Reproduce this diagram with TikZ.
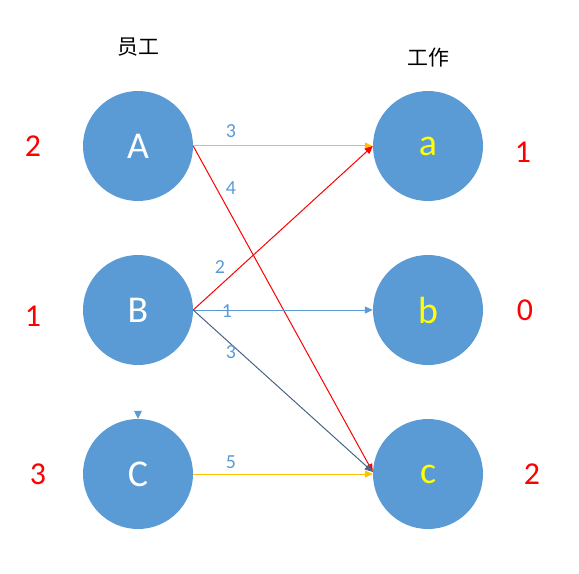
\documentclass[tikz,border=0pt]{standalone}
\usepackage{fontspec}
\setmainfont{Carlito}
\newfontfamily\cjk{Noto Sans CJK SC}
\usetikzlibrary{arrows.meta}
\definecolor{nodeblue}{HTML}{5B9BD5}
\definecolor{arrowyellow}{HTML}{FFC000}
\definecolor{darkslate}{HTML}{4A6484}
\definecolor{letteryellow}{HTML}{FFFF00}
\tikzset{
  vertex/.style={circle, fill=nodeblue, minimum size=110bp, inner sep=0pt, font=\fontsize{38}{40}\selectfont},
  leftv/.style={vertex, text=white},
  rightv/.style={vertex, text=letteryellow},
  wlabel/.style={text=nodeblue, font=\fontsize{20}{22}\selectfont, inner sep=0pt},
  side/.style={text=red, font=\fontsize{32}{34}\selectfont, inner sep=0pt},
  head/.style={font=\cjk\fontsize{21}{22}\selectfont, inner sep=0pt},
  conn/.style={-{Triangle[length=8bp,width=7bp]}, line width=1bp},
}
\begin{document}
\begin{tikzpicture}[x=1bp,y=-1bp]
\useasboundingbox (0,0) rectangle (579,574);
\node[head] (h1) at (138,47) {员工};
\node[head] (h2) at (428,58) {工作};
\node[leftv] (A) at (138,146) {A};
\node[leftv] (B) at (138,310) {B};
\node[leftv] (C) at (138,474) {C};
\node[rightv] (a) at (428,146) {a};
\node[rightv] (b) at (428,310) {b};
\node[rightv] (c) at (428,474) {c};
\node[side] (sA) at (33,146) {2};
\node[side] (sB) at (33,316) {1};
\node[side] (sC) at (38,474) {3};
\node[side] (sa) at (523,152) {1};
\node[side] (sb) at (525,310) {0};
\node[side] (sc) at (532,474) {2};
\draw[conn, arrowyellow] (A.east) -- (a.west);
\draw[conn, red] (A.east) -- ([yshift=2bp]c.west);
\draw[conn, red] (B.east) -- (a.west);
\draw[conn, nodeblue] (B.east) -- (b.west);
\draw[conn, darkslate] (B.east) -- ([yshift=2bp]c.west);
\draw[conn, arrowyellow] (C.east) -- (c.west);
\node[wlabel] (l1) at (231,131) {3};
\node[wlabel] (l2) at (231,188) {4};
\node[wlabel] (l3) at (220,267) {2};
\node[wlabel] (l4) at (227,311) {1};
\node[wlabel] (l5) at (231,352) {3};
\node[wlabel] (l6) at (231,462) {5};
\coordinate (tip) at (C.north);
\fill[nodeblue] (tip) -- ++(-4bp,8bp) -- ++(8bp,0bp) -- cycle;
\end{tikzpicture}
\end{document}
